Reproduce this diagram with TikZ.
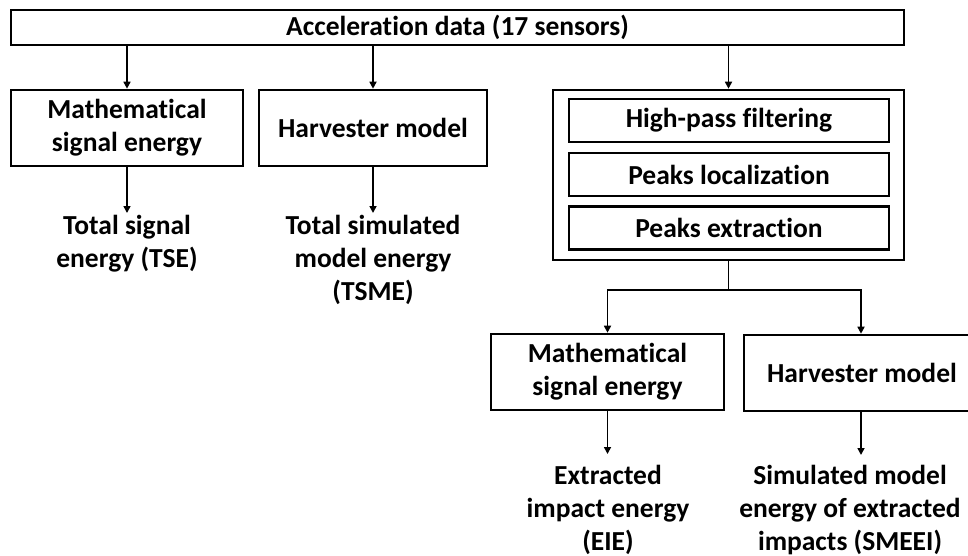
\documentclass[tikz,border=0pt]{standalone}
\usepackage{fontspec}
\setmainfont{Carlito}[Ligatures=NoCommon]
\usetikzlibrary{arrows.meta}
\begin{document}
\begin{tikzpicture}[x=1pt,y=-1pt,
  every node/.style={font=\fontsize{27.5}{33}\selectfont\bfseries},
  box/.style={draw,line width=2.6pt,inner sep=0pt,align=center,minimum height=76pt},
  sbox/.style={draw,line width=2.6pt,inner sep=0pt,align=center,minimum height=43pt,minimum width=320pt},
  outtext/.style={inner sep=0pt,align=center,anchor=north},
  arr/.style={line width=1.6pt,-{Triangle[length=7pt,width=7pt]}},
  ln/.style={line width=1.6pt}]
\useasboundingbox (0,0) rectangle (968,556);
\node[box,minimum width=893pt,minimum height=35pt] (top) at (457.5,27.5) {Acceleration data (17 sensors)};
\node[box,minimum width=232pt] (b1) at (127,128) {Mathematical\\signal energy};
\node[box,minimum width=228pt] (b2) at (373,128) {Harvester model};
\node[box,minimum width=351pt,minimum height=170pt] (outer) at (728.5,175) {};
\node[sbox] (f1) at (729,120.5) {High-pass filtering};
\node[sbox] (f2) at (729,174.5) {Peaks localization};
\node[sbox] (f3) at (729,228) {Peaks extraction};
\node[box,minimum width=233pt] (b3) at (607.5,372) {Mathematical\\signal energy};
\node[box,minimum width=236pt] (b4) at (862,373) {Harvester model};

\coordinate (e1) at (127,213);
\coordinate (e2) at (373,213);
\coordinate (e3) at (607.5,454);
\coordinate (e4) at (861,455);
\node[outtext] (o1) at (127,215) {Total signal\\energy (TSE)};
\node[outtext] (o2) at (373,215) {Total simulated\\model energy\\(TSME)};
\node[outtext] (o3) at (608,465) {Extracted\\impact energy\\(EIE)};
\node[outtext] (o4) at (850,465) {Simulated model\\energy of extracted\\impacts (SMEEI)};

\draw[arr] (top.south -| b1) -- (b1.north);
\draw[arr] (top.south -| b2) -- (b2.north);
\draw[arr] (top.south -| outer) -- (outer.north);
\draw[arr] (b1.south) -- (e1);
\draw[arr] (b2.south) -- (e2);
\draw[arr] (b3.south) -- (e3);
\draw[arr] (b4.south -| e4) -- (e4);
\coordinate (j) at (728.5,290);
\draw[ln] (outer.south) -- (j);
\draw[arr] (j) -| (b3.north);
\draw[arr] (j) -| (b4.north -| e4);
\end{tikzpicture}
\end{document}
